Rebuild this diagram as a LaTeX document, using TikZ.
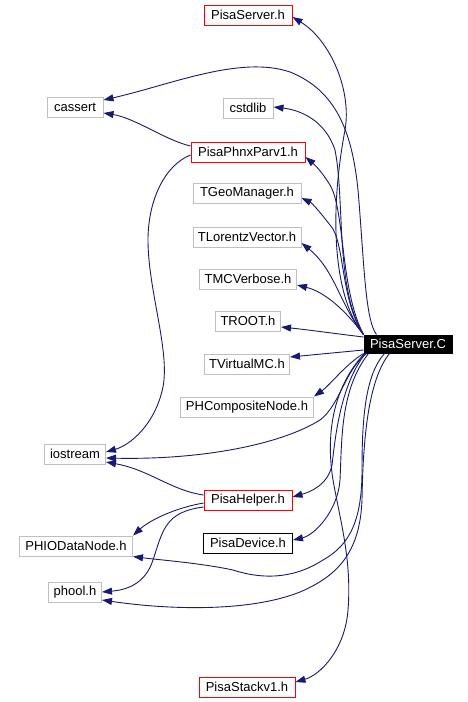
\documentclass[tikz,border=0pt]{standalone}
\usepackage{fontspec}
\setmainfont{Liberation Sans}
\usetikzlibrary{arrows.meta}
\definecolor{edgec}{HTML}{191970}
\definecolor{grayb}{HTML}{BFBFBF}
\definecolor{redb}{HTML}{FF0000}
\tikzset{
  box/.style={draw=grayb, line width=1pt, minimum height=20pt, inner sep=0pt, font=\fontsize{13}{15}\selectfont, text=black},
  redbox/.style={box, draw=redb},
  blkbox/.style={box, draw=black},
  mainbox/.style={box, draw=black, fill=black, text=white},
  dep/.style={draw=edgec, line width=0.9pt, -{Triangle[length=10pt,width=7pt]}},
}
\begin{document}
\begin{tikzpicture}[x=1pt,y=-1pt]
\useasboundingbox (0,0) rectangle (468,702);
% nodes
\node[redbox, minimum width=88pt]  (psh)      at (248,15)  {PisaServer.h};
\node[box,    minimum width=56pt]  (cassert)  at (75,107)  {cassert};
\node[box,    minimum width=50pt]  (cstdlib)  at (248,108) {cstdlib};
\node[redbox, minimum width=114pt] (ppp)      at (248,152) {PisaPhnxParv1.h};
\node[box,    minimum width=108pt] (tgeo)     at (247,193) {TGeoManager.h};
\node[box,    minimum width=108pt] (tlor)     at (247,237) {TLorentzVector.h};
\node[box,    minimum width=97pt]  (tmc)      at (248,279) {TMCVerbose.h};
\node[box,    minimum width=65pt]  (troot)    at (248,321) {TROOT.h};
\node[mainbox,minimum width=88pt, minimum height=18pt] (psc) at (408,344) {PisaServer.C};
\node[box,    minimum width=85pt]  (tvmc)     at (247,364) {TVirtualMC.h};
\node[box,    minimum width=133pt] (phc)      at (247,407) {PHCompositeNode.h};
\node[box,    minimum width=61pt]  (iostream) at (75,454)  {iostream};
\node[redbox, minimum width=88pt]  (phelp)    at (248,500) {PisaHelper.h};
\node[box,    minimum width=113pt] (phio)     at (76,546)  {PHIODataNode.h};
\node[blkbox, minimum width=89pt]  (pdev)     at (248,543) {PisaDevice.h};
\node[box,    minimum width=53pt]  (phool)    at (75,592)  {phool.h};
\node[redbox, minimum width=96pt]  (pstack)   at (247,687) {PisaStackv1.h};
% edges
\draw[dep] (psc.north west) .. controls (335,300) and (328,220) .. (345,130) .. controls (352,90) and (330,40) .. ([yshift=-2pt]psh.east);
\draw[dep] ([xshift=13pt]psc.north west) .. controls (365,320) and (364,260) .. (358,190) .. controls (352,130) and (335,90) .. (290,72) .. controls (240,55) and (170,85) .. ([yshift=7pt]cassert.east);
\draw[dep] ([yshift=6pt]ppp.west) .. controls (165,140) and (135,118) .. ([yshift=-6pt]cassert.east);
\draw[dep] (psc.north west) .. controls (335,290) and (345,200) .. (335,150) .. controls (325,120) and (300,110) .. ([yshift=1pt]cstdlib.east);
\draw[dep] (psc.north west) .. controls (340,290) and (345,210) .. (330,185) .. controls (322,172) and (315,165) .. ([yshift=-5pt]ppp.east);
\draw[dep] ([yshift=-3pt]ppp.west) .. controls (165,165) and (148,200) .. (148,240) .. controls (148,290) and (170,350) .. (163,387) .. controls (155,425) and (130,445) .. ([yshift=2pt]iostream.east);
\draw[dep] (psc.north west) .. controls (340,300) and (345,240) .. (330,225) .. controls (320,212) and (312,203) .. ([yshift=-5pt]tgeo.east);
\draw[dep] (psc.north west) .. controls (340,305) and (335,270) .. ([yshift=-6pt]tlor.east);
\draw[dep] (psc.north west) .. controls (345,310) and (325,292) .. ([yshift=-6pt]tmc.east);
\draw[dep] ([yshift=7pt]psc.west) .. controls (330,333) and (310,330) .. ([yshift=-6pt]troot.east);
\draw[dep] ([yshift=-6pt]psc.west) -- ([yshift=7pt]tvmc.east);
\draw[dep] (psc.south west) .. controls (345,365) and (330,385) .. (phc.north east);
\draw[dep] ([xshift=3pt]psc.south west) .. controls (345,370) and (340,405) .. (320,420) .. controls (280,445) and (200,460) .. ([yshift=-4pt]iostream.east);
\draw[dep] ([yshift=5pt]phelp.west) .. controls (170,490) and (150,470) .. ([yshift=-8pt]iostream.east);
\draw[dep] ([xshift=2pt]psc.south west) .. controls (340,385) and (335,440) .. (332,465) .. controls (328,485) and (310,492) .. ([yshift=3pt]phelp.east);
\draw[dep] ([yshift=-3pt]phelp.west) .. controls (175,508) and (150,520) .. (phio.north east);
\draw[dep] ([yshift=-7pt]phelp.west) .. controls (165,512) and (163,530) .. (153,560) .. controls (145,585) and (125,590) .. (phool.east);
\draw[dep] ([xshift=5pt]psc.south west) .. controls (340,390) and (342,440) .. (340,480) .. controls (338,510) and (315,535) .. ([yshift=3pt]pdev.east);
\draw[dep] ([xshift=21pt]psc.south west) .. controls (365,375) and (362,420) .. (362,470) .. controls (362,520) and (350,545) .. (323,560) .. controls (300,575) and (270,582) .. (233,570) .. controls (200,563) and (160,560) .. (phio.south east);
\draw[dep] ([xshift=26pt]psc.south west) .. controls (368,380) and (363,440) .. (362,500) .. controls (360,550) and (340,575) .. (300,592) .. controls (250,612) and (170,610) .. ([yshift=-8pt]phool.east);
\draw[dep] ([xshift=1pt]psc.south west) .. controls (335,385) and (325,430) .. (333,480) .. controls (340,520) and (352,560) .. (348,610) .. controls (345,650) and (320,675) .. ([yshift=5pt]pstack.east);
\end{tikzpicture}
\end{document}
